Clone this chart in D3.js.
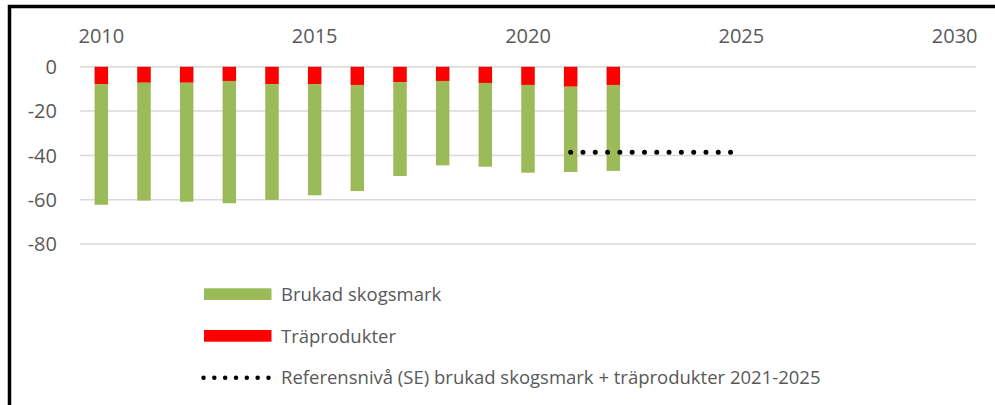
<!DOCTYPE html>
<html><head><meta charset="utf-8">
<script src="https://cdn.jsdelivr.net/npm/d3@7"></script>
<style>
body{margin:0;background:#fff;}
svg{display:block;}
text{font-family:"Open Sans",sans-serif;fill:#595959;}
</style></head>
<body>
<svg id="c" width="995" height="405"></svg>
<script>
const years = [2010,2011,2012,2013,2014,2015,2016,2017,2018,2019,2020,2021,2022];
const skogsmark = [-54.5,-53.2,-53.7,-55.2,-52.3,-50.2,-47.9,-42.4,-38.1,-37.8,-39.6,-38.5,-38.8];
const traprodukter = [-7.8,-7.2,-7.2,-6.4,-7.8,-7.8,-8.2,-6.9,-6.4,-7.3,-8.2,-9.0,-8.2];
const refYears = [2021,2022,2023,2024,2025];
const refValues = [-38.6,-38.6,-38.6,-38.6,-38.6];
const xTicks = [2010,2015,2020,2025,2030];
const yTicks = [0,-20,-40,-60,-80];
const legendLabels = ["Brukad skogsmark","Träprodukter","Referensnivå (SE) brukad skogsmark + träprodukter 2021-2025"];

const svg = d3.select("#c");
const x = d3.scaleLinear().domain([2009.5,2030.5]).range([80,976]);
const y = d3.scaleLinear().domain([-80,0]).range([244,66.8]);
const bw = 13.5;

// frame
svg.append("rect").attr("x",9.5).attr("y",6.5).attr("width",1000).attr("height",500)
  .attr("fill","none").attr("stroke","#000").attr("stroke-width",3.5);

// gridlines
svg.append("g").selectAll("line").data(yTicks).join("line")
  .attr("x1",80).attr("x2",976).attr("y1",d=>y(d)).attr("y2",d=>y(d))
  .attr("stroke","#D9D9D9").attr("stroke-width",1.5);

// y labels
svg.append("g").selectAll("text").data(yTicks).join("text")
  .attr("x",57).attr("y",d=>y(d)).attr("dy","0.36em").attr("text-anchor","end")
  .attr("font-size",20).text(d=>d);

// x labels
svg.append("g").selectAll("text").data(xTicks).join("text")
  .attr("x",d=>x(d)).attr("y",43).attr("text-anchor","middle")
  .attr("font-size",20).text(d=>d);

// bars
const bars = svg.append("g");
bars.selectAll("rect.r").data(years).join("rect").attr("class","r")
  .attr("x",d=>x(d)-bw/2).attr("width",bw)
  .attr("y",y(0)).attr("height",(d,i)=>y(traprodukter[i])-y(0))
  .attr("fill","#FF0000");
bars.selectAll("rect.g").data(years).join("rect").attr("class","g")
  .attr("x",d=>x(d)-bw/2).attr("width",bw)
  .attr("y",(d,i)=>y(traprodukter[i]))
  .attr("height",(d,i)=>y(traprodukter[i]+skogsmark[i])-y(traprodukter[i]))
  .attr("fill","#9BBB59");

// reference dotted line
const line = d3.line().x(d=>x(d[0])).y(d=>y(d[1]));
svg.append("path").datum(refYears.map((d,i)=>[d,refValues[i]]))
  .attr("d",line).attr("fill","none").attr("stroke","#000")
  .attr("stroke-width",5).attr("stroke-linecap","round").attr("stroke-dasharray","0 12.3");

// legend
const lg = svg.append("g");
lg.append("rect").attr("x",204).attr("y",288.3).attr("width",67.5).attr("height",11.7).attr("fill","#9BBB59");
lg.append("rect").attr("x",204).attr("y",330).attr("width",67.5).attr("height",11.7).attr("fill","#FF0000");
lg.append("line").attr("x1",203.5).attr("x2",268.5).attr("y1",377.7).attr("y2",377.7)
  .attr("stroke","#000").attr("stroke-width",4.5).attr("stroke-linecap","round").attr("stroke-dasharray","0 10.83");
[294,336,377.7].forEach((yy,i)=>{
  lg.append("text").attr("x",281).attr("y",yy).attr("dy","0.36em").attr("font-size",18.5).text(legendLabels[i]);
});
</script>
</body></html>
